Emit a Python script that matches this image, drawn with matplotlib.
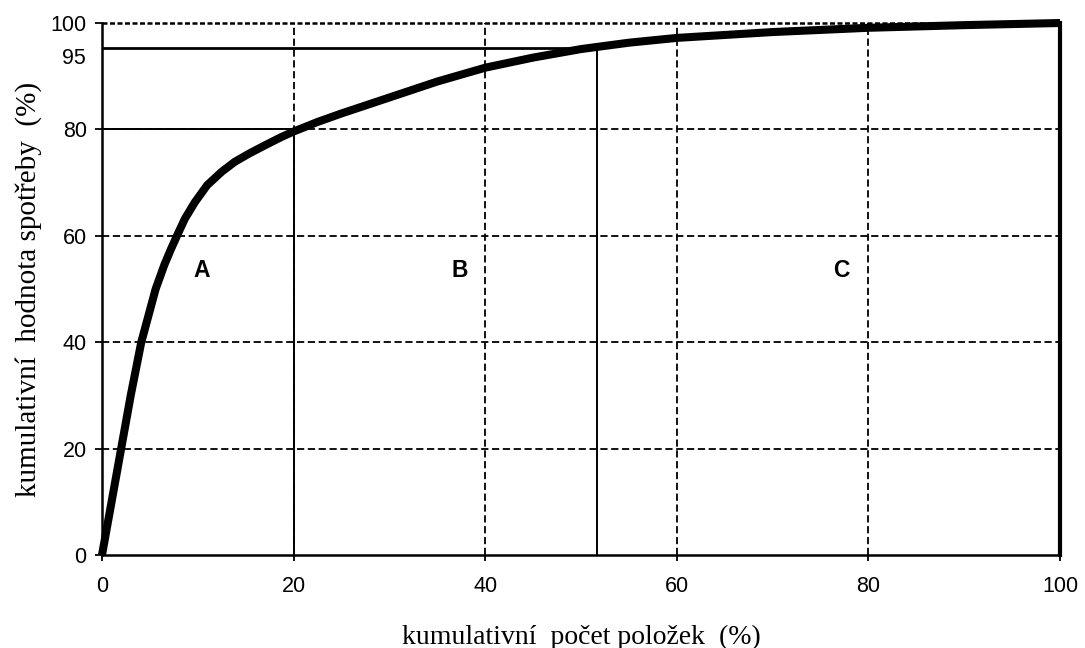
import matplotlib
matplotlib.use("Agg")
import matplotlib.pyplot as plt

# cumulative share of items (%) vs cumulative share of consumption value (%)
items_pct = [0, 1, 2, 3, 4.1, 5.6, 6.5, 7.2, 7.9, 8.65, 9.69, 10.97, 12.47, 13.85, 15.4, 17.0, 18.7, 20,
             22.5, 25, 30, 35, 40, 45, 50, 55, 60, 70, 80, 90, 100]
value_pct = [0, 10, 20, 30, 40, 50, 54.5, 57.5, 60.3, 63.2, 66.3, 69.5, 72.0, 73.9, 75.5, 77.0, 78.55, 79.6,
             81.4, 83.0, 86.0, 89.0, 91.6, 93.5, 95.1, 96.3, 97.2, 98.3, 99.1, 99.6, 100]

x_ticks = [0, 20, 40, 60, 80, 100]
y_ticks = [0, 20, 40, 60, 80, 100]
class_labels = ["A", "B", "C"]
class_label_x = [10.4, 37.3, 77.2]
class_label_y = [53.5, 53.5, 53.5]
cut_a = (20, 80)
cut_b = (51.7, 95.3)

fig = plt.figure(figsize=(10.85, 6.48), dpi=100)
ax = fig.add_axes([0.094, 0.1435, 0.883, 0.821])
ax.set_xlim(0, 100)
ax.set_ylim(0, 100)

# dashed grid
for gx in [20, 40, 60, 80]:
    ax.axvline(gx, color="black", lw=1.3, ls=(0, (4, 2)), zorder=1)
for gy in [20, 40, 60, 80]:
    ax.axhline(gy, color="black", lw=1.3, ls=(0, (4, 2)), zorder=1)
ax.axhline(100, color="black", lw=1.8, ls=(0, (2, 1)), zorder=1, clip_on=False)

# solid cut-off lines
ax.plot([0, cut_a[0]], [cut_a[1], cut_a[1]], color="black", lw=1.4, zorder=2)
ax.plot([cut_a[0], cut_a[0]], [0, cut_a[1]], color="black", lw=1.4, zorder=2)
ax.plot([0, cut_b[0]], [cut_b[1], cut_b[1]], color="black", lw=2.0, zorder=2)
ax.plot([cut_b[0], cut_b[0]], [0, cut_b[1]], color="black", lw=1.4, zorder=2)

# curve
ax.plot(items_pct, value_pct, color="black", lw=5.8, solid_capstyle="butt",
        solid_joinstyle="round", zorder=3, clip_on=False)

for lab, lx, ly in zip(class_labels, class_label_x, class_label_y):
    ax.text(lx, ly, lab, fontsize=16.5, fontweight="bold", family="Liberation Sans",
            ha="center", va="center")

ax.set_xticks(x_ticks)
ax.set_yticks(y_ticks)
ax.set_xticklabels([str(v) for v in x_ticks], family="Liberation Sans", fontsize=15.5)
ax.set_yticklabels([str(v) for v in y_ticks], family="Liberation Sans", fontsize=15.5)
ax.tick_params(axis="x", direction="out", length=4, width=1.3, pad=11)
ax.tick_params(axis="y", direction="out", length=5, width=1.3, pad=6)
ax.text(-1.7, 93.3, "95", family="Liberation Sans", fontsize=15.5, ha="right", va="center")

for s in ["left", "bottom"]:
    ax.spines[s].set_linewidth(1.8)
ax.spines["right"].set_linewidth(3)
ax.spines["top"].set_visible(False)

ax.set_xlabel("kumulativní  počet položek  (%)", family="Liberation Serif", fontsize=20, labelpad=20)
ax.set_ylabel("kumulativní  hodnota spotřeby  (%)", family="Liberation Serif", fontsize=21, labelpad=6)

fig.savefig("out.png", dpi=100)
